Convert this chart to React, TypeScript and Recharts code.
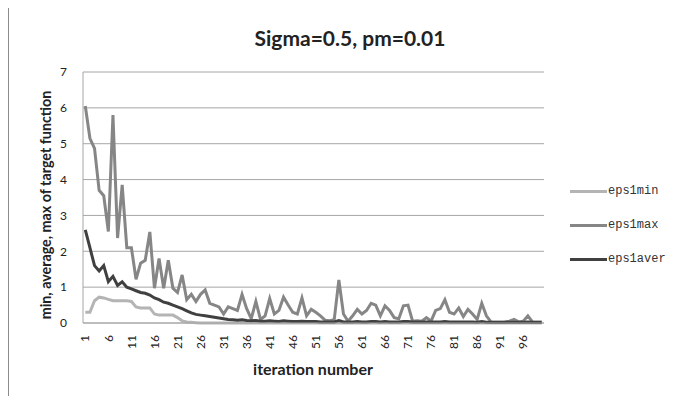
import { LineChart, Line, XAxis, YAxis, CartesianGrid } from "recharts"

const iterations = Array.from({ length: 100 }, (_, i) => i + 1)

const eps1min = [
  0.3, 0.3, 0.62, 0.72, 0.7, 0.66, 0.62, 0.62, 0.62, 0.62,
  0.6, 0.45, 0.42, 0.42, 0.42, 0.25, 0.22, 0.22, 0.22, 0.22,
  0.15, 0.06, 0.03, 0.02, 0.01, 0, 0, 0, 0, 0,
  0, 0, 0, 0, 0, 0, 0, 0, 0, 0,
  0, 0, 0, 0, 0, 0, 0, 0, 0, 0,
  0, 0, 0, 0, 0, 0, 0, 0, 0, 0,
  0, 0, 0, 0, 0, 0, 0, 0, 0, 0,
  0, 0, 0, 0, 0, 0, 0, 0, 0, 0,
  0, 0, 0, 0, 0, 0, 0, 0, 0, 0,
  0, 0, 0, 0, 0, 0, 0, 0, 0, 0,
]

const eps1max = [
  6.05, 5.15, 4.87, 3.7, 3.55, 2.55, 5.8, 2.37, 3.85, 2.1,
  2.1, 1.22, 1.67, 1.75, 2.54, 0.97, 1.8, 0.97, 1.75, 0.97,
  0.85, 1.34, 0.65, 0.8, 0.6, 0.8, 0.92, 0.55, 0.5, 0.45,
  0.25, 0.45, 0.4, 0.35, 0.8, 0.4, 0.12, 0.6, 0.1, 0.2,
  0.68, 0.25, 0.35, 0.72, 0.5, 0.3, 0.25, 0.7, 0.2, 0.38,
  0.3, 0.2, 0.08, 0.06, 0.1, 1.2, 0.25, 0.05, 0.2, 0.38,
  0.25, 0.35, 0.55, 0.5, 0.2, 0.48, 0.35, 0.15, 0.12, 0.48,
  0.5, 0.05, 0.06, 0.05, 0.15, 0.05, 0.35, 0.4, 0.65, 0.3,
  0.25, 0.42, 0.18, 0.38, 0.25, 0.1, 0.55, 0.2, 0.03, 0.02,
  0.02, 0.03, 0.05, 0.1, 0.03, 0.05, 0.2, 0.03, 0.02, 0.02,
]

const eps1aver = [
  2.6, 2.1, 1.6, 1.45, 1.6, 1.15, 1.3, 1.05, 1.15, 1.0,
  0.95, 0.9, 0.85, 0.83, 0.78, 0.7, 0.65, 0.58, 0.55, 0.5,
  0.45, 0.4, 0.34, 0.28, 0.24, 0.22, 0.2, 0.18, 0.16, 0.14,
  0.12, 0.1, 0.09, 0.08, 0.09, 0.07, 0.06, 0.07, 0.05, 0.05,
  0.06, 0.05, 0.04, 0.06, 0.05, 0.04, 0.04, 0.05, 0.04, 0.04,
  0.04, 0.03, 0.03, 0.03, 0.03, 0.07, 0.03, 0.03, 0.03, 0.04,
  0.03, 0.03, 0.04, 0.04, 0.03, 0.04, 0.03, 0.03, 0.03, 0.04,
  0.04, 0.03, 0.03, 0.03, 0.03, 0.03, 0.03, 0.03, 0.04, 0.03,
  0.03, 0.03, 0.03, 0.03, 0.03, 0.02, 0.04, 0.02, 0.02, 0.02,
  0.02, 0.02, 0.02, 0.02, 0.02, 0.02, 0.03, 0.02, 0.02, 0.02,
]

const yTicks = [0, 1, 2, 3, 4, 5, 6, 7]

const SERIES = [
  { key: "eps1min", color: "#b4b4b4" },
  { key: "eps1max", color: "#868686" },
  { key: "eps1aver", color: "#404040" },
]

const rows = iterations.map((it, i) => ({
  iter: it,
  eps1min: eps1min[i],
  eps1max: eps1max[i],
  eps1aver: eps1aver[i],
}))

const W = 671
const H = 388
const FONT = "Lato, 'Open Sans', sans-serif"

function XTick({ x, y, payload }: any) {
  return (
    <text
      x={x}
      y={y}
      transform={`rotate(-90 ${x} ${y})`}
      textAnchor="end"
      dy="0.35em"
      fontSize={12}
      fontFamily={FONT}
      fill="#222"
    >
      {payload.value}
    </text>
  )
}

export default function App() {
  return (
    <div style={{ position: "relative", width: W, height: H, fontFamily: FONT }}>
      <div style={{ position: "absolute", left: 0, top: -8, width: 1, height: 396, background: "#8c8c8c" }} />

      <div
        style={{
          position: "absolute",
          left: 342,
          top: 17,
          transform: "translateX(-50%)",
          fontSize: 21,
          fontWeight: 700,
          color: "#222",
          whiteSpace: "nowrap",
        }}
      >
        Sigma=0.5, pm=0.01
      </div>

      <LineChart width={W} height={H} data={rows} margin={{ top: 64, right: 135, bottom: 0, left: 0 }}>
        <CartesianGrid vertical={false} stroke="#a6a6a6" />
        <XAxis
          dataKey="iter"
          interval={4}
          padding={{ left: 2.3, right: 2.3 }}
          height={73}
          tick={<XTick />}
          tickLine={false}
          tickSize={6}
          tickMargin={6}
          axisLine={{ stroke: "#a6a6a6" }}
        />
        <YAxis
          domain={[0, 7]}
          ticks={yTicks}
          width={75}
          tickLine={false}
          tickSize={0}
          tickMargin={16}
          axisLine={{ stroke: "#a6a6a6" }}
          tick={{ fontSize: 12, fill: "#222", fontFamily: FONT }}
        />
        {SERIES.map((s) => (
          <Line
            key={s.key}
            dataKey={s.key}
            stroke={s.color}
            strokeWidth={3}
            dot={false}
            isAnimationActive={false}
          />
        ))}
      </LineChart>

      <div
        style={{
          position: "absolute",
          left: 37,
          top: 197,
          transform: "translate(-50%, -50%) rotate(-90deg)",
          fontSize: 14.3,
          fontWeight: 700,
          color: "#222",
          whiteSpace: "nowrap",
        }}
      >
        min, average, max of target function
      </div>

      <div
        style={{
          position: "absolute",
          left: 305,
          top: 351,
          transform: "translateX(-50%)",
          fontSize: 16,
          fontWeight: 700,
          color: "#222",
          whiteSpace: "nowrap",
        }}
      >
        iteration number
      </div>

      <div style={{ position: "absolute", left: 562, top: 166 }}>
        {SERIES.map((s) => (
          <div key={s.key} style={{ display: "flex", alignItems: "center", height: 34 }}>
            <span style={{ display: "inline-block", width: 37, height: 3, background: s.color }} />
            <span style={{ fontFamily: "'Liberation Mono', monospace", fontSize: 12, color: "#333", marginLeft: 1 }}>
              {s.key}
            </span>
          </div>
        ))}
      </div>
    </div>
  )
}
